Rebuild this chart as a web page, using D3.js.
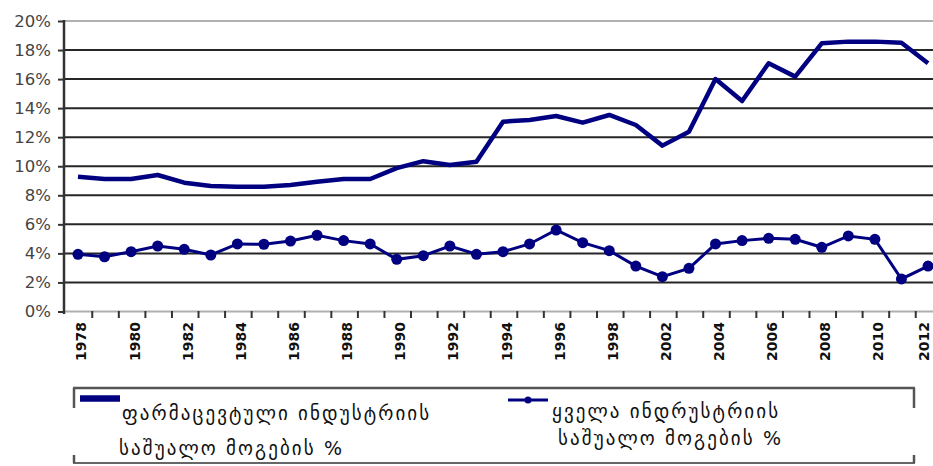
<!DOCTYPE html>
<html>
<head>
<meta charset="utf-8">
<script src="https://cdn.jsdelivr.net/npm/d3@7"></script>
<style>
  body { margin: 0; background: #fff; }
  svg { display: block; }
</style>
</head>
<body>
<svg width="933" height="466"></svg>
<script>
// categories (one between 1998 and 2002 has no label in the original)
const years = ["1978", "1979", "1980", "1981", "1982", "1983", "1984", "1985", "1986", "1987",
    "1988", "1989", "1990", "1991", "1992", "1993", "1994", "1995", "1996", "1997", "1998",
    "2000", "2002", "2003", "2004", "2005", "2006", "2007", "2008", "2009", "2010", "2011", "2012"];

// pharma industry average profit %
const pharmaValues = [9.28, 9.12, 9.12, 9.4, 8.87, 8.64, 8.59, 8.59, 8.71, 8.94,
    9.12, 9.12, 9.87, 10.35, 10.09, 10.31, 13.07, 13.18, 13.46, 13.0, 13.53,
    12.84, 11.42, 12.38, 16.0, 14.49, 17.09, 16.17, 18.46, 18.58, 18.58, 18.5, 17.09];

// all industries average profit %
const allValues = [3.94, 3.77, 4.12, 4.51, 4.28, 3.89, 4.65, 4.63, 4.85, 5.25,
    4.88, 4.65, 3.59, 3.84, 4.51, 3.94, 4.12, 4.65, 5.61, 4.74, 4.19,
    3.13, 2.40, 2.97, 4.65, 4.88, 5.04, 4.97, 4.42, 5.20, 4.97, 2.24, 3.13];

const yTicks = [0, 2, 4, 6, 8, 10, 12, 14, 16, 18, 20];

const legendLabels = [
    ["ფარმაცევტული ინდუსტრიის", "საშუალო მოგების %"],
    ["ყველა ინდრუსტრიის", "საშუალო მოგების %"]
];

const navy = "#000080";
const svg = d3.select("svg");

// scales
const x = d3.scaleBand().domain(years).range([64.7, 941.3]);
const y = d3.scaleLinear().domain([0, 20]).range([311.5, 21]);
const cx = d => x(d) + x.bandwidth() / 2;

// gridlines
svg.append("g")
    .selectAll("line")
    .data(yTicks)
    .join("line")
    .attr("x1", 64)
    .attr("x2", 933)
    .attr("y1", d => y(d))
    .attr("y2", d => y(d))
    .attr("stroke", d => (d === 20 || d === 0) ? "#b0b0b0" : "#262626")
    .attr("stroke-width", 2);

// y axis
const yAxis = svg.append("g")
    .attr("transform", "translate(64,0)")
    .call(d3.axisLeft(y).tickValues(yTicks).tickSize(6).tickPadding(7).tickFormat(d => d + "%"));
yAxis.select(".domain").attr("stroke", "#333").attr("stroke-width", 2.5).attr("d", "M0,20V314");
yAxis.selectAll(".tick line").attr("stroke", "#333").attr("stroke-width", 2);
yAxis.selectAll("text")
    .attr("font-family", "DejaVu Sans")
    .attr("font-size", 16.5)
    .attr("fill", "#444");

// x axis ticks between categories
const xAxis = svg.append("g");
xAxis.selectAll("line")
    .data(years.slice(1))
    .join("line")
    .attr("x1", d => x(d) + 1)
    .attr("x2", d => x(d) + 1)
    .attr("y1", 311)
    .attr("y2", 318)
    .attr("stroke", "#333")
    .attr("stroke-width", 2);

xAxis.selectAll("text")
    .data(years.filter((d, i) => i % 2 === 0))
    .join("text")
    .attr("transform", d => `translate(${Math.min(cx(d) + 8.5, 928.5)},322) rotate(-90)`)
    .attr("text-anchor", "end")
    .attr("font-family", "DejaVu Sans")
    .attr("font-weight", "bold")
    .attr("font-size", 14)
    .attr("fill", "#111")
    .text(d => d);

// lines
const line = d3.line().x((d, i) => cx(years[i])).y(d => y(d));

svg.append("path")
    .datum(pharmaValues)
    .attr("fill", "none")
    .attr("stroke", navy)
    .attr("stroke-width", 4.5)
    .attr("stroke-linejoin", "round")
    .attr("d", line);

svg.append("path")
    .datum(allValues)
    .attr("fill", "none")
    .attr("stroke", navy)
    .attr("stroke-width", 3)
    .attr("d", line);

svg.append("g")
    .selectAll("circle")
    .data(allValues)
    .join("circle")
    .attr("cx", (d, i) => cx(years[i]))
    .attr("cy", d => y(d))
    .attr("r", 5.5)
    .attr("fill", navy);

// legend frame
const legend = svg.append("g");
legend.append("line").attr("x1", 73).attr("x2", 915).attr("y1", 388).attr("y2", 388)
    .attr("stroke", "#555").attr("stroke-width", 2.5);
legend.append("line").attr("x1", 73).attr("x2", 915).attr("y1", 463).attr("y2", 463)
    .attr("stroke", "#666").attr("stroke-width", 2);
[74, 914].forEach(px => {
    legend.append("line").attr("x1", px).attr("x2", px).attr("y1", 388).attr("y2", 408)
        .attr("stroke", "#555").attr("stroke-width", 2.5);
    legend.append("line").attr("x1", px).attr("x2", px).attr("y1", 455).attr("y2", 463)
        .attr("stroke", "#555").attr("stroke-width", 2.5);
});

// legend entry 1
legend.append("line").attr("x1", 80).attr("x2", 120).attr("y1", 398.5).attr("y2", 398.5)
    .attr("stroke", navy).attr("stroke-width", 6.5);
legend.append("text").attr("x", 122).attr("y", 420).text(legendLabels[0][0]);
legend.append("text").attr("x", 119).attr("y", 455).text(legendLabels[0][1]);

// legend entry 2
legend.append("line").attr("x1", 508).attr("x2", 548).attr("y1", 400).attr("y2", 400)
    .attr("stroke", navy).attr("stroke-width", 3);
legend.append("circle").attr("cx", 528).attr("cy", 400).attr("r", 3.5).attr("fill", navy);
legend.append("text").attr("x", 552).attr("y", 418).text(legendLabels[1][0]);
legend.append("text").attr("x", 558).attr("y", 445).text(legendLabels[1][1]);

legend.selectAll("text")
    .attr("font-family", "DejaVu Sans")
    .attr("font-size", 19)
    .attr("letter-spacing", 2.1)
    .attr("fill", "#111");
</script>
</body>
</html>
